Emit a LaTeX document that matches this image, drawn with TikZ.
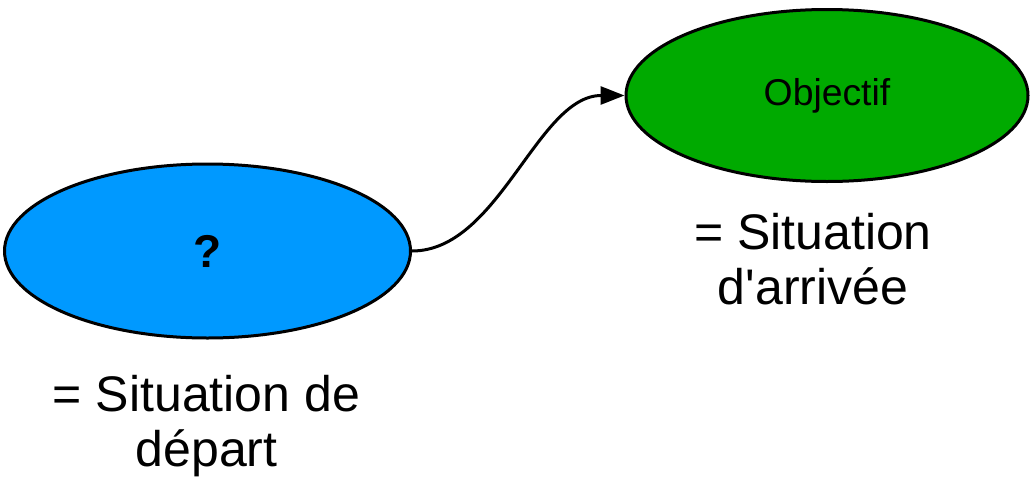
\documentclass[tikz,border=0pt]{standalone}
\usepackage{fontspec}
\setmainfont{Liberation Sans}
\usetikzlibrary{shapes.geometric,arrows.meta}
\definecolor{bleu}{RGB}{0,153,255}
\definecolor{vert}{RGB}{0,170,0}
\begin{document}
\begin{tikzpicture}[x=0.75pt, y=-0.75pt,
	situation/.style={ellipse, draw, line width=2.25pt, inner sep=0pt},
	legende/.style={align=center, font=\fontsize{37.5}{41.25}\selectfont}]
	\useasboundingbox (0, 0) rectangle (1031, 482);
	\node[situation, fill=bleu, minimum width=304.5pt, minimum height=130.5pt,
		font=\fontsize{34.5}{40}\selectfont\bfseries] (depart) at (207.5, 251) {?};
	\node[situation, fill=vert, minimum width=301.5pt, minimum height=129pt,
		font=\fontsize{28}{32}\selectfont] (arrivee) at (827, 95.5) {Objectif};
	\draw[-{Triangle[length=18pt, width=13.5pt]}, line width=2.25pt]
		(depart.east) .. controls +(87, 0) and +(-87, 0) .. (arrivee.west);
	\node[legende] (txtdepart) at (206.5, 426.5) {= Situation de\\départ};
	\node[legende] (txtarrivee) at (813, 259) {= Situation\\d\textquotesingle arrivée};
\end{tikzpicture}
\end{document}
